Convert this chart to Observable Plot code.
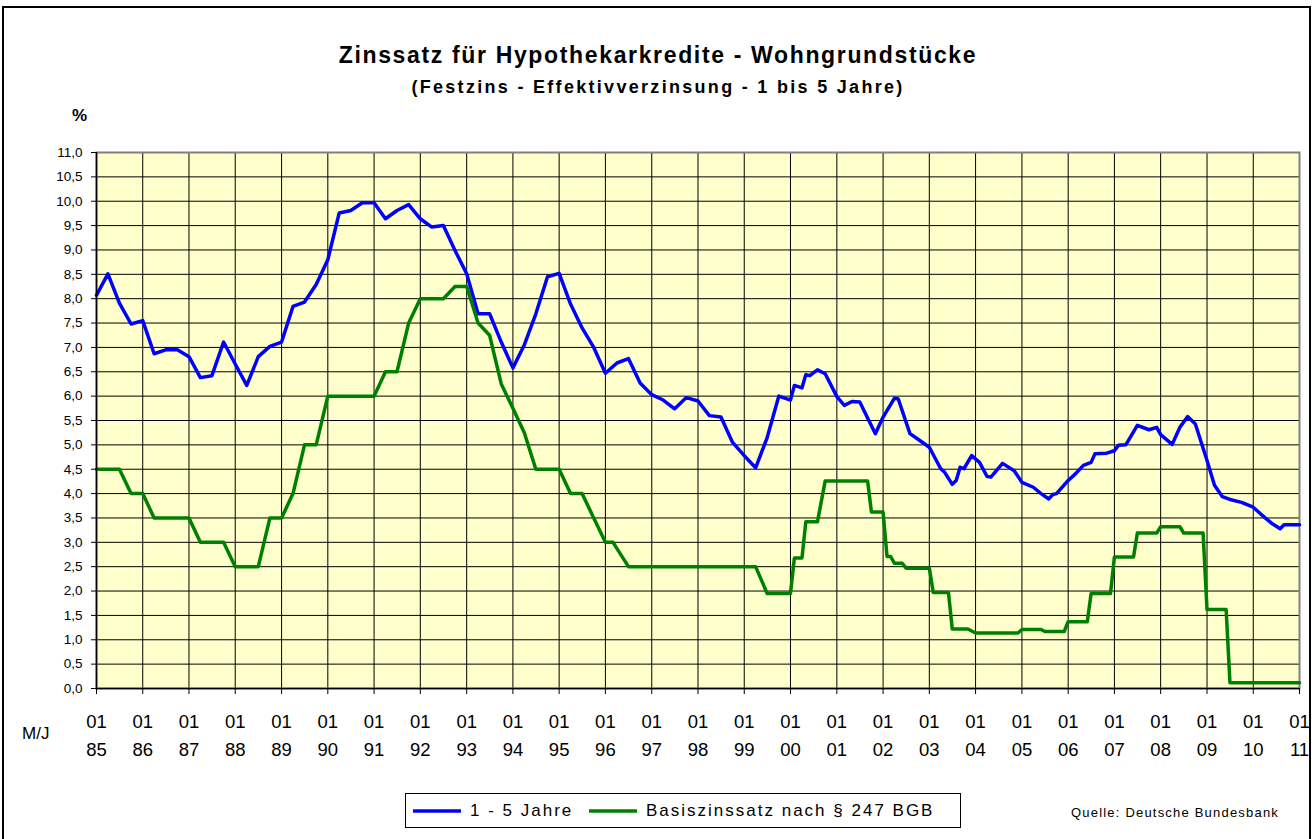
<!DOCTYPE html>
<html>
<head>
<meta charset="utf-8">
<script src="https://cdn.jsdelivr.net/npm/d3@7"></script>
<script src="https://cdn.jsdelivr.net/npm/@observablehq/plot@0.6"></script>
<style>
  html, body { margin: 0; padding: 0; background: #fff; }
  #wrap { position: relative; width: 1316px; height: 839px; overflow: hidden; font-family: "Liberation Sans", Arial, sans-serif; color: #000; }
  #border { position: absolute; left: 2px; top: 6px; width: 1309px; height: 860px; border: 2px solid #000; box-sizing: border-box; }
  #chart { position: absolute; left: 0; top: 0; }
  .abs { position: absolute; white-space: nowrap; }
  #title { left: 0; width: 1316px; top: 42px; text-align: center; font-weight: bold; font-size: 23px; letter-spacing: 1.65px; }
  #subtitle { left: 0; width: 1316px; top: 77px; text-align: center; font-weight: bold; font-size: 18px; letter-spacing: 2.3px; }
  #pct { left: 72px; top: 106px; font-weight: bold; font-size: 17px; }
  #mj { left: 22px; top: 724px; font-size: 17px; }
  #legend { position: absolute; left: 405px; top: 793px; width: 556px; height: 35px; border: 1px solid #000; box-sizing: border-box; background: #fff; font-size: 17px; letter-spacing: 2px; }
  #legend .item { position: absolute; top: 0; height: 33px; display: flex; align-items: center; white-space: nowrap; }
  #legend svg { margin-right: 9px; }
  #source { left: 1071px; top: 805px; font-size: 13px; letter-spacing: 1.2px; }
</style>
</head>
<body>
<div id="wrap">
  <div id="border"></div>
  <div id="chart"></div>
  <div id="title" class="abs">Zinssatz für Hypothekarkredite - Wohngrundstücke</div>
  <div id="subtitle" class="abs">(Festzins - Effektivverzinsung - 1 bis 5 Jahre)</div>
  <div id="pct" class="abs">%</div>
  <div id="mj" class="abs">M/J</div>
  <div id="legend"></div>
  <div id="source" class="abs">Quelle: Deutsche Bundesbank</div>
</div>
<script>
// ---- Data ----
const seriesNames = ["1 - 5 Jahre", "Basiszinssatz nach § 247 BGB"];
const seriesColors = ["#0000FF", "#008000"];

const blueDates = ["1985-01","1985-04","1985-07","1985-10","1986-01","1986-04","1986-07","1986-10","1987-01","1987-04","1987-07","1987-10","1988-01","1988-04","1988-07","1988-10","1989-01","1989-04","1989-07","1989-10","1990-01","1990-04","1990-07","1990-10","1991-01","1991-04","1991-07","1991-10","1992-01","1992-04","1992-07","1992-10","1993-01","1993-04","1993-07","1993-10","1994-01","1994-04","1994-07","1994-10","1995-01","1995-04","1995-07","1995-10","1996-01","1996-04","1996-07","1996-10","1997-01","1997-04","1997-07","1997-10","1998-01","1998-04","1998-07","1998-10","1999-01","1999-04","1999-07","1999-10","2000-01","2000-02","2000-04","2000-05","2000-06","2000-08","2000-10","2001-01","2001-03","2001-05","2001-07","2001-11","2002-01","2002-04","2002-05","2002-08","2002-10","2003-01","2003-04","2003-05","2003-07","2003-08","2003-09","2003-10","2003-12","2004-02","2004-04","2004-05","2004-08","2004-11","2005-01","2005-04","2005-06","2005-08","2005-09","2005-10","2006-01","2006-03","2006-05","2006-07","2006-08","2006-11","2007-01","2007-02","2007-04","2007-07","2007-10","2007-12","2008-01","2008-04","2008-06","2008-08","2008-10","2009-01","2009-03","2009-05","2009-07","2009-10","2010-01","2010-03","2010-06","2010-08","2010-09","2011-01"];
const blueValues = [8.07,8.51,7.91,7.48,7.55,6.87,6.95,6.95,6.81,6.38,6.42,7.11,6.66,6.22,6.81,7.02,7.11,7.84,7.93,8.29,8.80,9.76,9.81,9.97,9.97,9.64,9.81,9.93,9.64,9.47,9.50,8.99,8.51,7.69,7.69,7.11,6.58,7.05,7.69,8.45,8.52,7.89,7.40,7.00,6.47,6.68,6.77,6.27,6.03,5.92,5.74,5.97,5.90,5.60,5.57,5.05,4.78,4.53,5.15,6.00,5.92,6.22,6.17,6.44,6.42,6.54,6.46,5.99,5.81,5.89,5.88,5.23,5.57,5.96,5.94,5.23,5.12,4.95,4.51,4.44,4.19,4.27,4.54,4.51,4.78,4.64,4.35,4.34,4.62,4.47,4.23,4.13,4.00,3.89,3.98,4.00,4.27,4.41,4.58,4.64,4.82,4.83,4.88,4.99,5.00,5.40,5.31,5.36,5.21,5.01,5.36,5.58,5.43,4.68,4.17,3.94,3.88,3.82,3.72,3.58,3.38,3.28,3.36,3.36];

const greenDates = ["1985-01","1985-07","1985-10","1986-01","1986-04","1987-01","1987-04","1987-10","1988-01","1988-07","1988-10","1989-01","1989-04","1989-07","1989-10","1990-01","1991-01","1991-04","1991-07","1991-10","1992-01","1992-07","1992-10","1993-01","1993-04","1993-07","1993-10","1994-01","1994-04","1994-07","1995-01","1995-04","1995-07","1995-10","1996-01","1996-03","1996-07","1999-04","1999-07","2000-01","2000-02","2000-04","2000-05","2000-08","2000-10","2001-09","2001-10","2002-01","2002-02","2002-03","2002-04","2002-06","2002-07","2003-01","2003-02","2003-06","2003-07","2003-11","2004-01","2004-12","2005-01","2005-06","2005-07","2005-12","2006-01","2006-06","2006-07","2006-12","2007-01","2007-06","2007-07","2007-12","2008-01","2008-06","2008-07","2008-12","2009-01","2009-06","2009-07","2011-01"];
const greenValues = [4.5,4.5,4.0,4.0,3.5,3.5,3.0,3.0,2.5,2.5,3.5,3.5,4.0,5.0,5.0,6.0,6.0,6.5,6.5,7.5,8.0,8.0,8.25,8.25,7.5,7.25,6.25,5.75,5.25,4.5,4.5,4.0,4.0,3.5,3.0,3.0,2.5,2.5,1.95,1.95,2.68,2.68,3.42,3.42,4.26,4.26,3.62,3.62,2.71,2.71,2.57,2.57,2.47,2.47,1.97,1.97,1.22,1.22,1.14,1.14,1.21,1.21,1.17,1.17,1.37,1.37,1.95,1.95,2.70,2.70,3.19,3.19,3.32,3.32,3.19,3.19,1.62,1.62,0.12,0.12];

const yTicks = [0,0.5,1,1.5,2,2.5,3,3.5,4,4.5,5,5.5,6,6.5,7,7.5,8,8.5,9,9.5,10,10.5,11];
const yearTicks = ["1985","1986","1987","1988","1989","1990","1991","1992","1993","1994","1995","1996","1997","1998","1999","2000","2001","2002","2003","2004","2005","2006","2007","2008","2009","2010","2011"];

// ---- Build tables ----
const parseM = d3.utcParse("%Y-%m");
const parseY = d3.utcParse("%Y");
const blue = blueDates.map((d, i) => ({date: parseM(d), value: blueValues[i]}));
const green = greenDates.map((d, i) => ({date: parseM(d), value: greenValues[i]}));
const years = yearTicks.map(parseY);
const fmtY = d => d3.format(".1f")(d).replace(".", ",");
const fmtX = d => "01\n" + String(d.getUTCFullYear()).slice(2);

const chart = Plot.plot({
  width: 1316,
  height: 780,
  marginLeft: 96,
  marginRight: 17,
  marginTop: 152,
  marginBottom: 92,
  style: {fontFamily: "'Liberation Sans', Arial, sans-serif", background: "transparent", color: "#000"},
  x: {type: "utc", domain: [parseY("1985"), parseY("2011")]},
  y: {domain: [0, 11]},
  marks: [
    Plot.frame({fill: "#FFFFCC", stroke: null}),
    Plot.ruleY(yTicks, {stroke: "#000", strokeWidth: 1}),
    Plot.ruleX(years, {stroke: "#000", strokeWidth: 1}),
    Plot.frame({stroke: "#808080", strokeWidth: 2}),
    Plot.line(blue, {x: "date", y: "value", stroke: seriesColors[0], strokeWidth: 3.5, strokeLinejoin: "round"}),
    Plot.line(green, {x: "date", y: "value", stroke: seriesColors[1], strokeWidth: 3.5, strokeLinejoin: "round"}),
    Plot.ruleX([parseY("1985")], {stroke: "#000", strokeWidth: 1.5}),
    Plot.ruleY([0], {stroke: "#000", strokeWidth: 1.5}),
    Plot.axisY({ticks: yTicks, tickFormat: fmtY, tickSize: 5, tickPadding: 9, fontSize: 13.5, label: null}),
    Plot.axisX({ticks: years, tickFormat: fmtX, tickSize: 6, tickPadding: 14, fontSize: 18.5, lineHeight: 1.5, label: null})
  ]
});
document.getElementById("chart").appendChild(chart);

// ---- Legend ----
const legend = document.getElementById("legend");
const itemLeft = [7, 183];
seriesNames.forEach((name, i) => {
  const item = document.createElement("div");
  item.className = "item";
  item.style.left = itemLeft[i] + "px";
  const sw = document.createElementNS("http://www.w3.org/2000/svg", "svg");
  sw.setAttribute("width", 48); sw.setAttribute("height", 10);
  const ln = document.createElementNS("http://www.w3.org/2000/svg", "line");
  ln.setAttribute("x1", 0); ln.setAttribute("x2", 48); ln.setAttribute("y1", 5); ln.setAttribute("y2", 5);
  ln.setAttribute("stroke", seriesColors[i]); ln.setAttribute("stroke-width", 3.5);
  sw.appendChild(ln);
  item.appendChild(sw);
  const sp = document.createElement("span");
  sp.textContent = name;
  item.appendChild(sp);
  legend.appendChild(item);
});
</script>
</body>
</html>
